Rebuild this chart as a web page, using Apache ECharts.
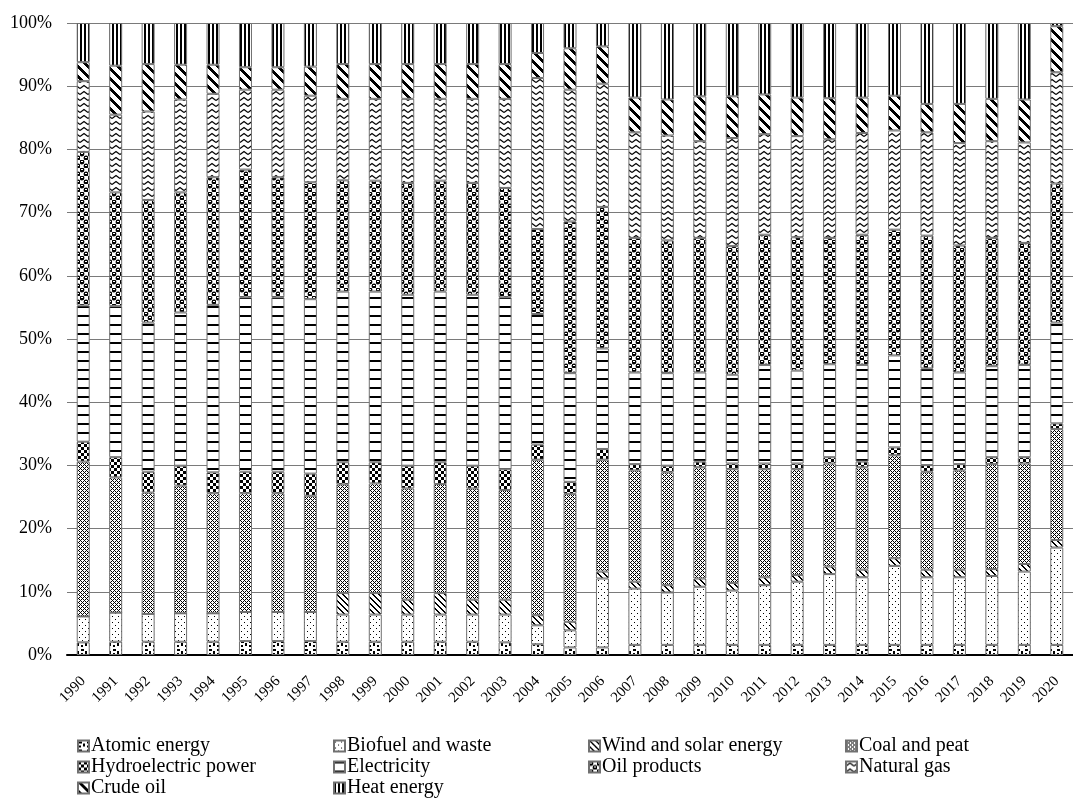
<!DOCTYPE html>
<html>
<head>
<meta charset="utf-8">
<script src="https://cdn.jsdelivr.net/npm/echarts@6/dist/echarts.min.js"></script>
<style>
html, body { margin: 0; padding: 0; background: #fff; }
#main { width: 1073px; height: 807px; }
</style>
</head>
<body>
<div id="main"></div>
<script>
// share of each source, % (bottom of the stack first)
var years = ['1990', '1991', '1992', '1993', '1994', '1995', '1996', '1997', '1998', '1999',
  '2000', '2001', '2002', '2003', '2004', '2005', '2006', '2007', '2008', '2009',
  '2010', '2011', '2012', '2013', '2014', '2015', '2016', '2017', '2018', '2019', '2020'];

var atomic = [2.0, 2.1, 2.1, 2.1, 2.1, 2.2, 2.2, 2.2, 2.1, 2.1, 2.1, 2.1, 2.1, 2.0, 1.7, 1.2, 1.2, 1.6, 1.6, 1.6, 1.6, 1.6, 1.6, 1.6, 1.6, 1.6, 1.6, 1.6, 1.6, 1.6, 1.6];
var biofuel = [4.1, 4.6, 4.4, 4.5, 4.5, 4.6, 4.6, 4.6, 4.3, 4.3, 4.3, 4.3, 4.3, 4.4, 3.0, 2.7, 10.9, 8.9, 8.3, 9.2, 8.6, 9.45, 10.0, 11.2, 10.7, 12.5, 10.7, 10.7, 10.9, 11.6, 15.4];
var windSolar = [0, 0, 0, 0, 0, 0, 0, 0, 3.4, 3.4, 2.35, 3.4, 2.35, 2.35, 1.6, 1.35, 1.1, 1.1, 1.15, 1.3, 1.2, 1.25, 1.05, 1.2, 1.2, 1.2, 1.2, 1.2, 1.1, 1.2, 1.2];
var coal = [24.5, 21.4, 19.2, 20.2, 19.0, 18.8, 18.8, 18.4, 17.2, 17.35, 17.6, 17.25, 17.6, 17.35, 24.6, 20.25, 17.7, 17.6, 17.85, 17.6, 18.0, 17.1, 16.75, 16.3, 16.2, 16.3, 15.5, 15.7, 16.6, 15.9, 17.55];
var hydro = [3.15, 3.2, 3.3, 3.15, 3.3, 3.4, 3.4, 3.5, 3.5, 3.35, 3.6, 3.45, 3.6, 3.3, 2.4, 1.9, 1.7, 1.0, 1.05, 0.9, 0.9, 0.9, 0.9, 1.0, 0.9, 1.25, 1.05, 1.0, 1.1, 1.0, 0.9];
var electricity = [21.55, 23.9, 23.6, 24.25, 26.5, 27.6, 27.6, 27.6, 27.0, 27.0, 27.05, 27.0, 27.05, 27.2, 20.65, 17.2, 15.9, 14.5, 14.65, 14.1, 14.05, 15.6, 14.7, 14.7, 15.3, 14.55, 15.3, 14.5, 14.4, 14.6, 15.95];
var oilProducts = [24.3, 18.0, 19.4, 19.0, 20.2, 20.2, 19.0, 18.5, 17.6, 17.55, 17.7, 17.55, 17.7, 17.3, 13.45, 24.0, 22.4, 21.3, 21.0, 21.3, 20.35, 20.6, 21.1, 20.0, 20.6, 19.9, 21.0, 20.1, 20.3, 19.3, 22.0];
var naturalGas = [11.2, 12.3, 14.0, 14.7, 13.2, 12.65, 13.85, 13.7, 12.9, 12.95, 13.3, 12.95, 13.3, 14.1, 23.9, 20.85, 19.5, 16.7, 16.6, 15.3, 17.1, 15.9, 16.0, 15.6, 16.1, 15.7, 16.35, 16.2, 15.3, 15.9, 17.6];
var crudeOil = [3.0, 7.75, 7.5, 5.5, 4.6, 3.55, 3.55, 4.6, 5.5, 5.5, 5.5, 5.5, 5.5, 5.5, 3.95, 6.55, 5.9, 5.5, 5.7, 7.1, 6.6, 6.3, 6.1, 6.5, 5.6, 5.5, 4.5, 6.2, 6.7, 6.8, 7.3];
var heat = [6.2, 6.75, 6.5, 6.6, 6.6, 7.0, 7.0, 6.9, 6.5, 6.5, 6.5, 6.5, 6.5, 6.5, 4.75, 4.0, 3.7, 11.8, 12.1, 11.6, 11.6, 11.3, 11.8, 11.9, 11.8, 11.5, 12.8, 12.8, 12.0, 12.1, 0.5];

var FONT = 'Liberation Serif';

// black & white fill patterns, like the excel ones
function pattern(w, h, draw) {
  var c = document.createElement('canvas');
  c.width = w;
  c.height = h;
  var ctx = c.getContext('2d');
  ctx.fillStyle = '#fff';
  ctx.fillRect(0, 0, w, h);
  ctx.fillStyle = '#000';
  ctx.strokeStyle = '#000';
  draw(ctx, w, h);
  return { image: c, repeat: 'repeat' };
}
function pixels(test) {
  return function (ctx, w, h) {
    for (var x = 0; x < w; x++) {
      for (var y = 0; y < h; y++) {
        if (test(x, y, w, h)) ctx.fillRect(x, y, 1, 1);
      }
    }
  };
}

var fills = {
  atomic: pattern(8, 8, function (ctx) {
    ctx.fillRect(1, 1, 3, 2);
    ctx.fillRect(5, 3, 2, 3);
    ctx.fillRect(1, 5, 2, 2);
  }),
  biofuel: pattern(6, 6, function (ctx) {
    ctx.fillRect(1, 1, 1, 1);
    ctx.fillRect(4, 4, 1, 1);
  }),
  wind: pattern(6, 6, pixels(function (x, y, w) { return (x - y + w) % w < 2; })),
  coal: pattern(4, 4, pixels(function (x, y) { return (x + y) % 4 === 0 || (x - y + 4) % 4 === 0; })),
  hydro: pattern(6, 6, function (ctx) {
    ctx.fillRect(0, 0, 3, 3);
    ctx.fillRect(3, 3, 3, 3);
  }),
  electricity: pattern(4, 9, function (ctx) {
    ctx.fillRect(0, 0, 4, 2);
  }),
  oil: pattern(8, 8, function (ctx) {
    ctx.beginPath(); ctx.arc(2, 2, 2.4, 0, Math.PI * 2); ctx.fill();
    ctx.beginPath(); ctx.arc(6, 6, 2.4, 0, Math.PI * 2); ctx.fill();
    ctx.fillStyle = '#fff';
    ctx.fillRect(1, 1, 2, 1);
    ctx.fillRect(5, 5, 2, 1);
  }),
  gas: pattern(8, 6, function (ctx) {
    ctx.lineWidth = 1.2;
    ctx.beginPath();
    ctx.moveTo(0, 4.5); ctx.lineTo(4, 1.5); ctx.lineTo(8, 4.5);
    ctx.stroke();
  }),
  crude: pattern(10, 10, pixels(function (x, y, w) { return (x - y + w) % w < 4; })),
  heat: pattern(4, 4, function (ctx) {
    ctx.fillRect(0, 0, 2, 4);
  })
};

var layers = [
  ['Atomic energy', atomic, fills.atomic],
  ['Biofuel and waste', biofuel, fills.biofuel],
  ['Wind and solar energy', windSolar, fills.wind],
  ['Coal and peat', coal, fills.coal],
  ['Hydroelectric power', hydro, fills.hydro],
  ['Electricity', electricity, fills.electricity],
  ['Oil products', oilProducts, fills.oil],
  ['Natural gas', naturalGas, fills.gas],
  ['Crude oil', crudeOil, fills.crude],
  ['Heat energy', heat, fills.heat]
];

var series = layers.map(function (l) {
  return {
    name: l[0],
    type: 'bar',
    stack: 'total',
    barWidth: 13,
    data: l[1],
    itemStyle: { color: l[2], borderColor: '#707070', borderWidth: 1 },
    emphasis: { disabled: true }
  };
});

function legendCol(left, names) {
  return {
    orient: 'vertical',
    left: left,
    top: 731,
    icon: 'rect',
    itemWidth: 11,
    itemHeight: 11,
    itemGap: 1,
    textStyle: { fontFamily: FONT, fontSize: 20, color: '#000', padding: [0, 0, 0, -3] },
    data: names
  };
}

var chart = echarts.init(document.getElementById('main'));
chart.setOption({
  animation: false,
  grid: { left: 67, right: -9, top: 23, bottom: 152 },
  legend: [
    legendCol(72, ['Atomic energy', 'Hydroelectric power', 'Crude oil']),
    legendCol(328, ['Biofuel and waste', 'Electricity', 'Heat energy']),
    legendCol(583, ['Wind and solar energy', 'Oil products']),
    legendCol(840, ['Coal and peat', 'Natural gas'])
  ],
  xAxis: {
    type: 'category',
    data: years,
    axisLine: { lineStyle: { color: '#000', width: 2 } },
    axisTick: { show: false },
    axisLabel: { interval: 0, rotate: 45, margin: 24, fontFamily: FONT, fontSize: 15, color: '#000' }
  },
  yAxis: {
    type: 'value',
    min: 0,
    max: 100,
    interval: 10,
    axisLine: { show: false },
    axisTick: { show: false },
    splitLine: { lineStyle: { color: '#7a7a7a', width: 1 } },
    axisLabel: { formatter: '{value}%', margin: 15, fontFamily: FONT, fontSize: 18, color: '#000' }
  },
  series: series
});
</script>
</body>
</html>
